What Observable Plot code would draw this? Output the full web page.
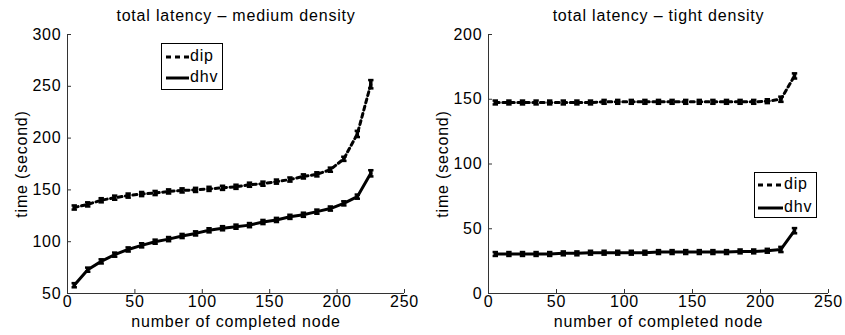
<!DOCTYPE html>
<html><head><meta charset="utf-8">
<script src="https://cdn.jsdelivr.net/npm/d3@7"></script>
<script src="https://cdn.jsdelivr.net/npm/@observablehq/plot@0.6"></script>
<style>
body{margin:0;background:#fff;}
#wrap{position:relative;width:845px;height:335px;font-family:"Liberation Sans",Arial,sans-serif;overflow:hidden;}
.panel{position:absolute;top:0;}
.legend{position:absolute;border:1px solid #000;background:#fff;box-sizing:border-box;}
.legend svg{position:absolute;left:0;top:0;}
.legend span{position:absolute;font-size:16px;letter-spacing:0.8px;line-height:16px;color:#000;}
</style></head><body><div id="wrap"></div>
<script>
// completed-node counts (x)
const nodes = [5,15,25,35,45,55,65,75,85,95,105,115,125,135,145,155,165,175,185,195,205,215,225];
const xTicks = [0,50,100,150,200,250];

// medium density
const medDip = [133,136,140,142.5,144.5,146,147,148.5,149.5,150,151,152,153,155,156,158,160,163,165,169.5,180,204,252];
const medDipErr = [2,2,2,2,2,2,2,2,2,2,2,2,2,2,2,2,2,2,2,2,2,3,4];
const medDhv = [58,73,81,87.5,92.5,96.5,100,102.5,105.5,108,111,113,114.5,116,119,121,124,126,129,132,137,143.5,166];
const medDhvErr = [2,2,2,2,2,2,2,2,2,2,2,2,2,2,2,2,2,2,2,2,2,2,3];
const medYTicks = [50,100,150,200,250,300];

// tight density
const tightDip = [147.5,147.5,147.5,147.5,147.5,147.5,147.5,147.5,148,148,148,148,148,148,148,148,148,148,148,148,148.5,150,168];
const tightDipErr = [1.5,1.5,1.5,1.5,1.5,1.5,1.5,1.5,1.5,1.5,1.5,1.5,1.5,1.5,1.5,1.5,1.5,1.5,1.5,1.5,1.5,2,2];
const tightDhv = [30.5,30.5,30.5,30.5,30.5,31,31,31.5,31.5,31.5,31.5,31.5,32,32,32,32,32,32,32.5,32.5,33,34,48.5];
const tightDhvErr = [1.5,1.5,1.5,1.5,1.5,1.5,1.5,1.5,1.5,1.5,1.5,1.5,1.5,1.5,1.5,1.5,1.5,1.5,1.5,1.5,1.5,2,2];
const tightYTicks = [0,50,100,150,200];

const seriesNames = ["dip","dhv"];
const titles = ["total latency \u2013 medium density","total latency \u2013 tight density"];
const xLabel = "number of completed node";
const yLabel = "time (second)";

function rows(vals, errs){ return nodes.map((x,i)=>({x, y: vals[i], lo: vals[i]-errs[i], hi: vals[i]+errs[i]})); }

function panel({title, dip, dhv, yTicks, width, marginLeft, marginRight}) {
  const cap = 2;
  const fs = 16;
  const series = [{d: dip, dash: "4,3.5"}, {d: dhv, dash: null}];
  const marks = [
    Plot.ruleY([yTicks[0]], {stroke: "#333", strokeWidth: 1}),
    Plot.ruleX([xTicks[0]], {stroke: "#333", strokeWidth: 1}),
    Plot.axisX({ticks: xTicks, tickSize: -4, tickPadding: 6, label: null, stroke: "#333", color: "#000", fontSize: fs}),
    Plot.axisY({ticks: yTicks, tickSize: -4, tickPadding: 10, label: null, stroke: "#333", color: "#000", fontSize: fs}),
  ];
  for (const s of series) {
    marks.push(Plot.line(s.d, {x: "x", y: "y", stroke: "#000", strokeWidth: 3, strokeDasharray: s.dash, strokeLinejoin: "round"}));
    marks.push(Plot.ruleX(s.d, {x: "x", y1: "lo", y2: "hi", stroke: "#000", strokeWidth: 3.5}));
    marks.push(Plot.link(s.d, {x1: d=>d.x-cap, x2: d=>d.x+cap, y1: "hi", y2: "hi", stroke: "#000", strokeWidth: 2.5}));
    marks.push(Plot.link(s.d, {x1: d=>d.x-cap, x2: d=>d.x+cap, y1: "lo", y2: "lo", stroke: "#000", strokeWidth: 2.5}));
  }
  marks.push(Plot.text([title], {frameAnchor: "top", dy: -19, fill: "#000", textAnchor: "middle", lineAnchor: "middle", fontSize: fs}));
  marks.push(Plot.text([xLabel], {frameAnchor: "bottom", dy: 28, fill: "#000", textAnchor: "middle", lineAnchor: "middle", fontSize: fs}));
  marks.push(Plot.text([yLabel], {frameAnchor: "left", dx: -46, rotate: -90, fill: "#000", textAnchor: "middle", lineAnchor: "middle", fontSize: fs}));
  return Plot.plot({
    width, height: 335, marginLeft, marginRight, marginTop: 34, marginBottom: 42,
    x: {domain: [xTicks[0], xTicks[xTicks.length-1]]},
    y: {domain: [yTicks[0], yTicks[yTicks.length-1]]},
    style: {fontFamily: "'Liberation Sans', Arial, sans-serif", fontSize: "16px", letterSpacing: "0.8px", color: "#000", background: "#fff", overflow: "visible"},
    marks
  });
}

const wrap = document.getElementById("wrap");
const p1 = panel({title: titles[0], dip: rows(medDip, medDipErr), dhv: rows(medDhv, medDhvErr), yTicks: medYTicks, width: 422, marginLeft: 67, marginRight: 18});
const p2 = panel({title: titles[1], dip: rows(tightDip, tightDipErr), dhv: rows(tightDhv, tightDhvErr), yTicks: tightYTicks, width: 423, marginLeft: 66, marginRight: 17});
const d1 = document.createElement("div"); d1.className = "panel"; d1.style.left = "0px"; d1.appendChild(p1); wrap.appendChild(d1);
const d2 = document.createElement("div"); d2.className = "panel"; d2.style.left = "422px"; d2.appendChild(p2); wrap.appendChild(d2);

function legend(left, top, w, h, lineX1, lineX2, textX, rowYs) {
  const el = document.createElement("div");
  el.className = "legend";
  Object.assign(el.style, {left: left+"px", top: top+"px", width: w+"px", height: h+"px"});
  const ns = "http://www.w3.org/2000/svg";
  const svg = document.createElementNS(ns, "svg");
  svg.setAttribute("width", w); svg.setAttribute("height", h);
  seriesNames.forEach((name, i) => {
    const ln = document.createElementNS(ns, "line");
    ln.setAttribute("x1", lineX1); ln.setAttribute("x2", lineX2);
    ln.setAttribute("y1", rowYs[i]); ln.setAttribute("y2", rowYs[i]);
    ln.setAttribute("stroke", "#000"); ln.setAttribute("stroke-width", 3);
    if (i === 0) ln.setAttribute("stroke-dasharray", "5,4");
    svg.appendChild(ln);
    const sp = document.createElement("span");
    sp.textContent = name;
    sp.style.left = textX + "px"; sp.style.top = (rowYs[i] - 9) + "px";
    el.appendChild(sp);
  });
  el.insertBefore(svg, el.firstChild);
  wrap.appendChild(el);
}
legend(161, 43, 62, 47, 4, 27, 28, [13, 34]);
legend(754, 172, 63, 46, 3, 28, 29, [12, 35]);
</script></body></html>
